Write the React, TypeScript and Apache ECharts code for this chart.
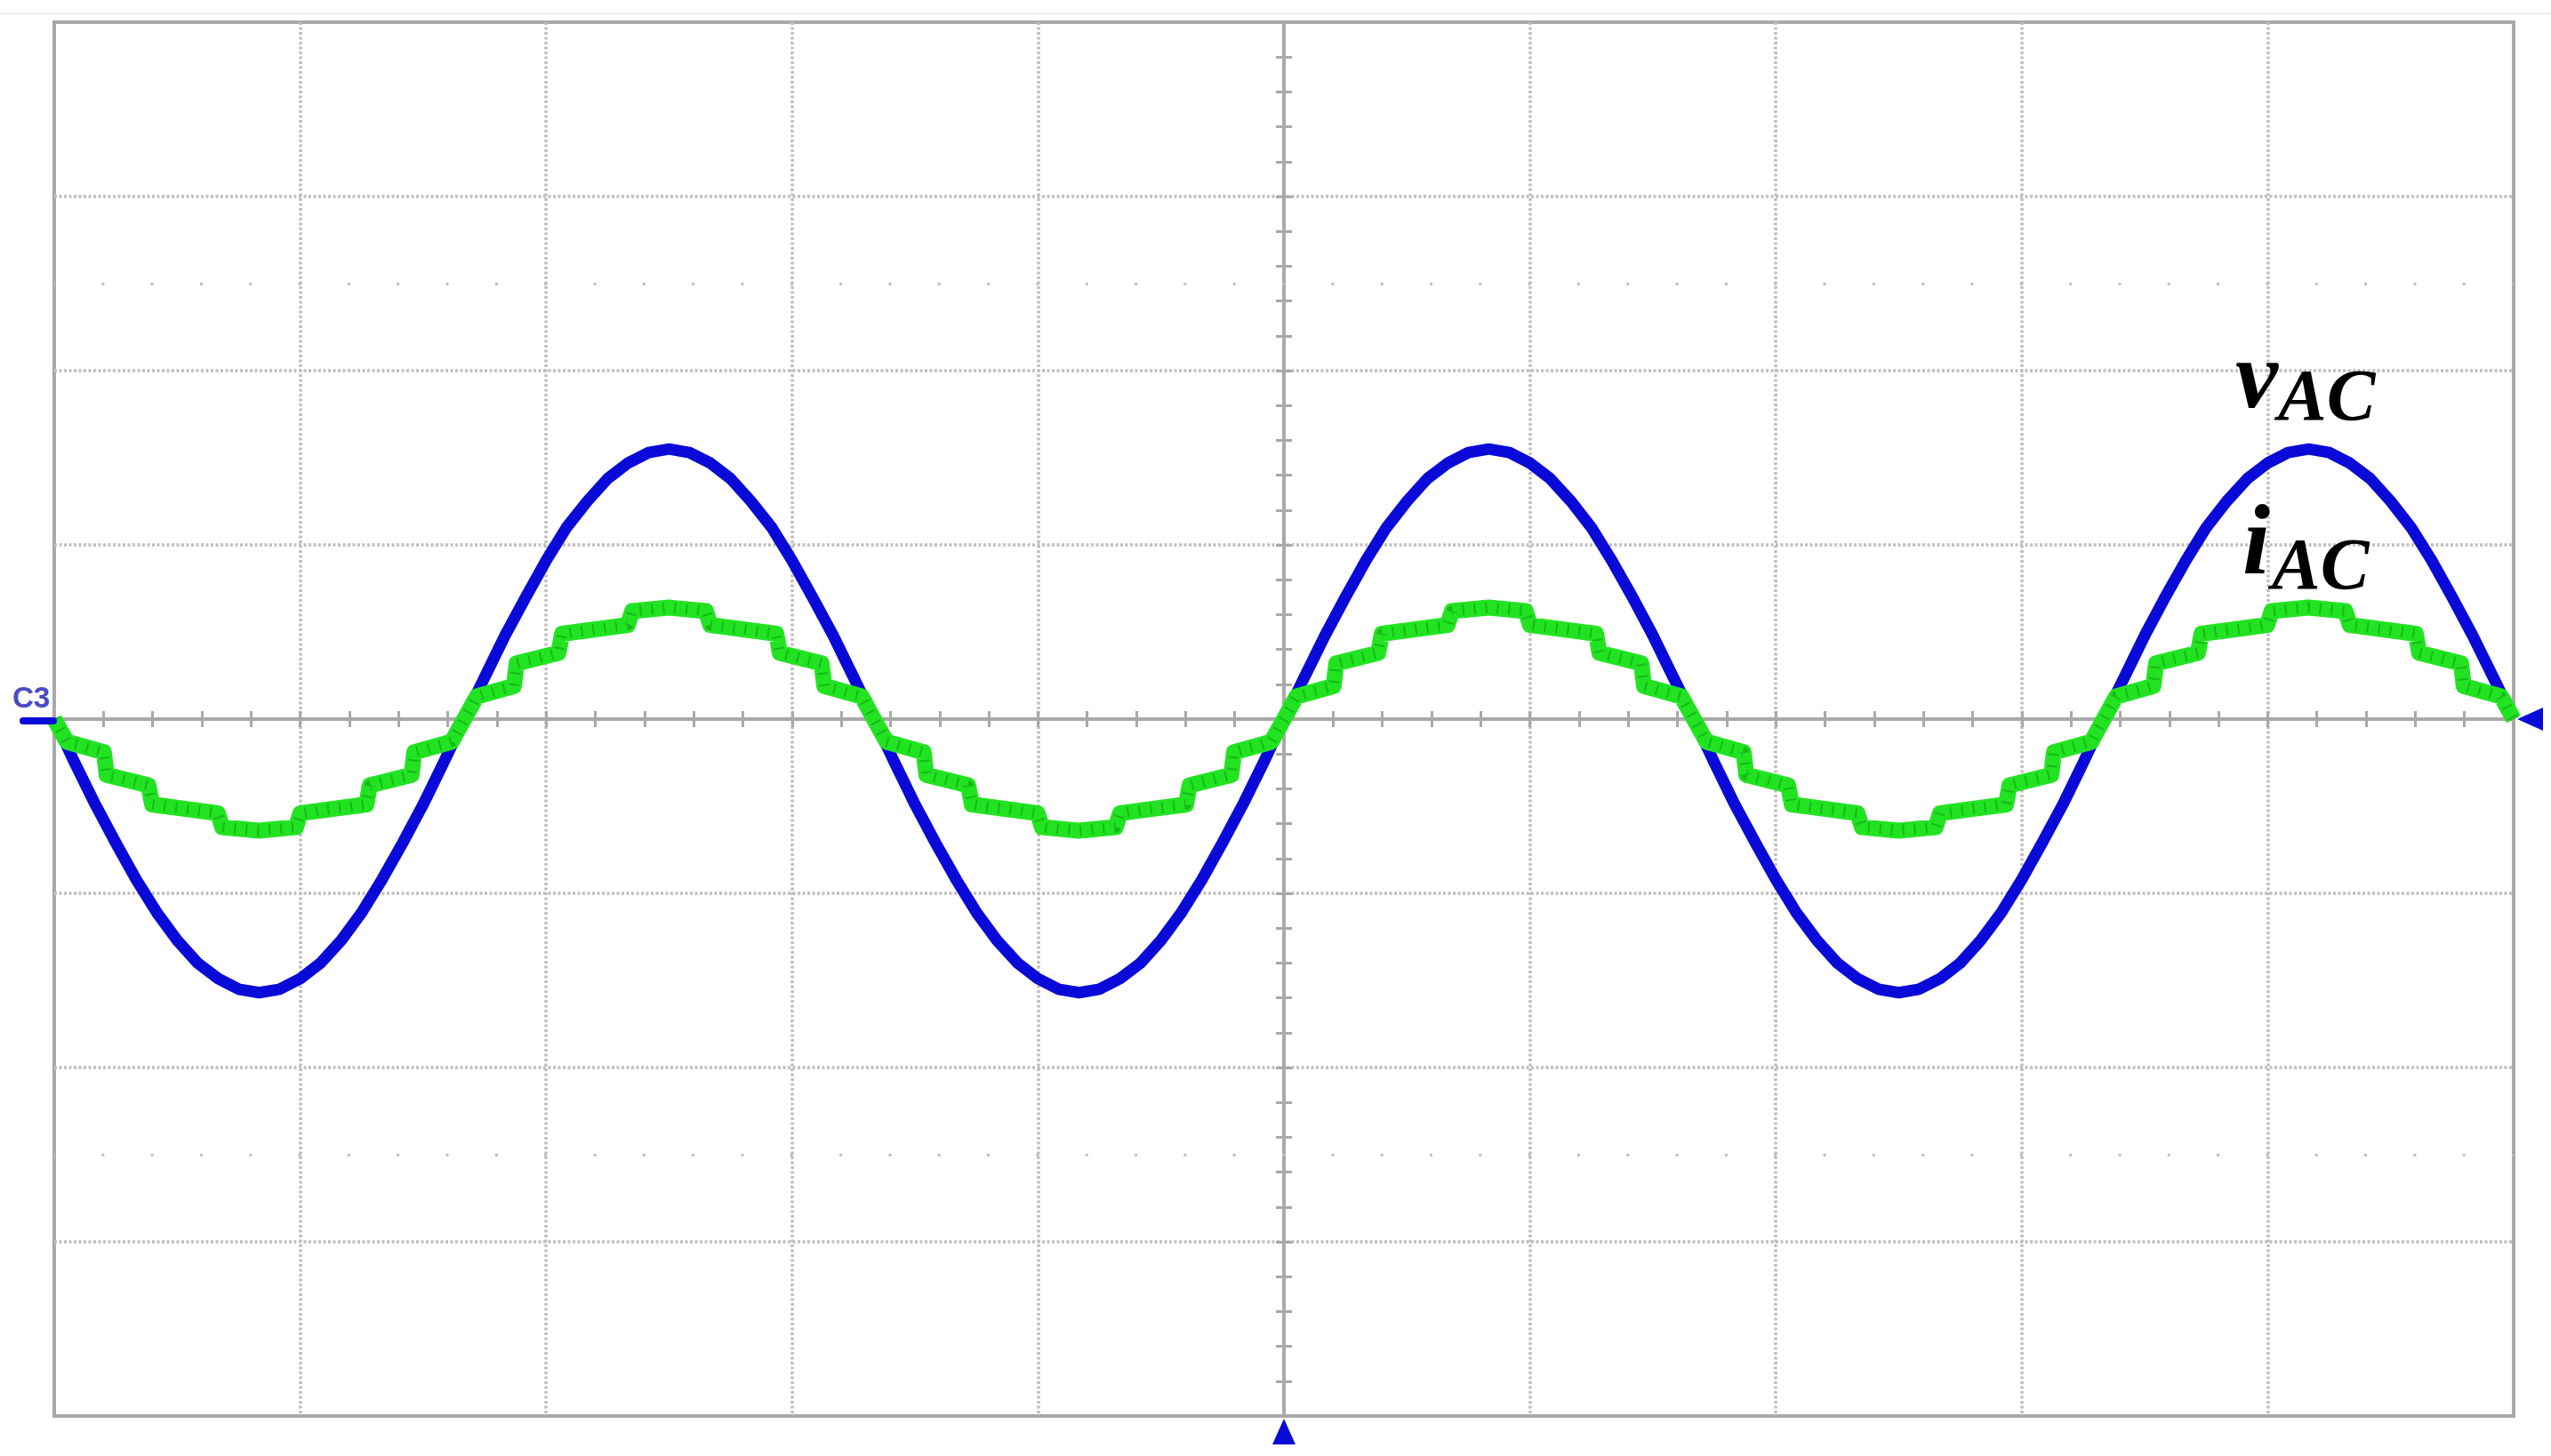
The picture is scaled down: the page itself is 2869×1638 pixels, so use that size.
import React, { useEffect, useRef } from "react";
import * as echarts from "echarts";

const W = 2869;
const H = 1638;

// time in divisions (-5 .. 5), voltage trace in divisions
const blueTime = [
  -5, -4.917, -4.833, -4.75, -4.667, -4.583, -4.5, -4.417, -4.333, -4.25,
  -4.167, -4.083, -4, -3.917, -3.833, -3.75, -3.667, -3.583, -3.5, -3.417,
  -3.333, -3.25, -3.167, -3.083, -3, -2.917, -2.833, -2.75, -2.667, -2.583,
  -2.5, -2.417, -2.333, -2.25, -2.167, -2.083, -2, -1.917, -1.833, -1.75,
  -1.667, -1.583, -1.5, -1.417, -1.333, -1.25, -1.167, -1.083, -1, -0.917,
  -0.833, -0.75, -0.667, -0.583, -0.5, -0.417, -0.333, -0.25, -0.167, -0.083,
  0, 0.083, 0.167, 0.25, 0.333, 0.417, 0.5, 0.583, 0.667, 0.75,
  0.833, 0.917, 1, 1.083, 1.167, 1.25, 1.333, 1.417, 1.5, 1.583,
  1.667, 1.75, 1.833, 1.917, 2, 2.083, 2.167, 2.25, 2.333, 2.417,
  2.5, 2.583, 2.667, 2.75, 2.833, 2.917, 3, 3.083, 3.167, 3.25,
  3.333, 3.417, 3.5, 3.583, 3.667, 3.75, 3.833, 3.917, 4, 4.083,
  4.167, 4.25, 4.333, 4.417, 4.5, 4.583, 4.667, 4.75, 4.833, 4.917,
  5,
];
const blueVolt = [
  0, -0.25, -0.49, -0.71, -0.92, -1.11, -1.27, -1.4, -1.49, -1.55,
  -1.57, -1.55, -1.49, -1.4, -1.27, -1.11, -0.92, -0.71, -0.49, -0.25,
  0, 0.24, 0.48, 0.7, 0.91, 1.1, 1.25, 1.38, 1.47, 1.53,
  1.55, 1.53, 1.47, 1.38, 1.25, 1.1, 0.91, 0.7, 0.48, 0.24,
  0, -0.25, -0.49, -0.71, -0.92, -1.11, -1.27, -1.4, -1.49, -1.55,
  -1.57, -1.55, -1.49, -1.4, -1.27, -1.11, -0.92, -0.71, -0.49, -0.25,
  0, 0.24, 0.48, 0.7, 0.91, 1.1, 1.25, 1.38, 1.47, 1.53,
  1.55, 1.53, 1.47, 1.38, 1.25, 1.1, 0.91, 0.7, 0.48, 0.24,
  0, -0.25, -0.49, -0.71, -0.92, -1.11, -1.27, -1.4, -1.49, -1.55,
  -1.57, -1.55, -1.49, -1.4, -1.27, -1.11, -0.92, -0.71, -0.49, -0.25,
  0, 0.24, 0.48, 0.7, 0.91, 1.1, 1.25, 1.38, 1.47, 1.53,
  1.55, 1.53, 1.47, 1.38, 1.25, 1.1, 0.91, 0.7, 0.48, 0.24,
  0,
];

// current trace (stepped) vertices
const greenTime = [
  -5.0, -4.949, -4.798, -4.787, -4.617, -4.602, -4.335, -4.317, -4.168, -4.017, -3.999, -3.731, -3.717, -3.547, -3.536, -3.384,
  -3.333, -3.282, -3.131, -3.12, -2.95, -2.935, -2.668, -2.65, -2.501, -2.35, -2.332, -2.064, -2.05, -1.88, -1.869, -1.717,
  -1.667, -1.616, -1.465, -1.454, -1.284, -1.269, -1.002, -0.984, -0.835, -0.684, -0.666, -0.398, -0.384, -0.214, -0.203, -0.051,
  0.0, 0.051, 0.202, 0.213, 0.383, 0.398, 0.665, 0.683, 0.832, 0.983, 1.001, 1.269, 1.283, 1.453, 1.464, 1.616,
  1.667, 1.718, 1.869, 1.88, 2.05, 2.065, 2.332, 2.35, 2.499, 2.65, 2.668, 2.936, 2.95, 3.12, 3.131, 3.283,
  3.333, 3.384, 3.535, 3.546, 3.716, 3.731, 3.998, 4.016, 4.165, 4.316, 4.334, 4.602, 4.616, 4.786, 4.797, 4.949,
  5.0,
];
const greenAmp = [
  0, -0.13, -0.19, -0.32, -0.38, -0.49, -0.54, -0.62, -0.64, -0.62, -0.54, -0.49, -0.38, -0.32, -0.19, -0.13,
  0, 0.13, 0.19, 0.32, 0.38, 0.49, 0.54, 0.62, 0.64, 0.62, 0.54, 0.49, 0.38, 0.32, 0.19, 0.13,
  0, -0.13, -0.19, -0.32, -0.38, -0.49, -0.54, -0.62, -0.64, -0.62, -0.54, -0.49, -0.38, -0.32, -0.19, -0.13,
  0, 0.13, 0.19, 0.32, 0.38, 0.49, 0.54, 0.62, 0.64, 0.62, 0.54, 0.49, 0.38, 0.32, 0.19, 0.13,
  0, -0.13, -0.19, -0.32, -0.38, -0.49, -0.54, -0.62, -0.64, -0.62, -0.54, -0.49, -0.38, -0.32, -0.19, -0.13,
  0, 0.13, 0.19, 0.32, 0.38, 0.49, 0.54, 0.62, 0.64, 0.62, 0.54, 0.49, 0.38, 0.32, 0.19, 0.13,
  0,
];

const dotRows = [2.5, -2.5];
const traceNames = ["v", "i"];
const traceSub = "AC";
const channelLabel = "C3";

const GRID_GRAY = "#a9a9a9";
const DOT_GRAY = "#bfbfbf";
const BLUE = "#0a0ad8";
const GREEN = "#22e322";

function xAxisDef(inside: boolean) {
  return {
    type: "value",
    min: -5,
    max: 5,
    interval: 1,
    position: "bottom",
    axisLine: { show: true, onZero: true, lineStyle: { color: GRID_GRAY, width: 4 } },
    axisTick: { show: true, inside, length: 9, lineStyle: { color: GRID_GRAY, width: 3 } },
    minorTick: { show: true, splitNumber: 5, length: 9, lineStyle: { color: GRID_GRAY, width: 3 } },
    axisLabel: { show: false },
    splitLine: {
      show: inside,
      showMinLine: false,
      showMaxLine: false,
      lineStyle: { color: DOT_GRAY, width: 3.5, type: [3, 2.5] },
    },
  };
}

function yAxisDef(inside: boolean) {
  return {
    type: "value",
    min: -4,
    max: 4,
    interval: 1,
    position: "left",
    axisLine: { show: true, onZero: true, lineStyle: { color: GRID_GRAY, width: 4 } },
    axisTick: { show: true, inside, length: 9, lineStyle: { color: GRID_GRAY, width: 3 } },
    minorTick: { show: true, splitNumber: 5, length: 9, lineStyle: { color: GRID_GRAY, width: 3 } },
    axisLabel: { show: false },
    splitLine: {
      show: inside,
      showMinLine: false,
      showMaxLine: false,
      lineStyle: { color: DOT_GRAY, width: 3.5, type: [3, 2.5] },
    },
  };
}

const serif = "Liberation Serif";

function labelText(text: string, x: number, y: number, size: number) {
  return {
    type: "text",
    x,
    y,
    style: {
      text,
      fill: "#000",
      fontFamily: serif,
      fontStyle: "italic",
      fontWeight: "bold",
      fontSize: size,
      verticalAlign: "middle",
      align: "left",
    },
    z: 10,
  };
}

export default function App() {
  const ref = useRef<HTMLDivElement>(null);

  useEffect(() => {
    document.body.style.margin = "0";
    if (!ref.current) return;
    const chart = echarts.init(ref.current, undefined, { renderer: "svg" });

    const greenData = greenTime.map((t, i) => [t, greenAmp[i]]);

    const option = {
      animation: false,
      backgroundColor: "#ffffff",
      grid: {
        left: 61,
        top: 25,
        width: 2766,
        height: 1568,
        show: true,
        borderColor: GRID_GRAY,
        borderWidth: 4,
        backgroundColor: "#ffffff",
      },
      xAxis: [xAxisDef(true), xAxisDef(false)],
      yAxis: [yAxisDef(true), yAxisDef(false)],
      series: [
        {
          name: "vAC",
          type: "line",
          xAxisIndex: 0,
          yAxisIndex: 0,
          data: blueTime.map((t, i) => [t, blueVolt[i]]),
          symbol: "none",
          lineStyle: { color: BLUE, width: 13, join: "round" },
          z: 3,
          markLine: {
            silent: true,
            symbol: "none",
            label: { show: false },
            lineStyle: { color: DOT_GRAY, width: 3, type: [3, 52.32], dashOffset: 1.5 },
            emphasis: { disabled: true },
            data: dotRows.map((v) => ({ yAxis: v })),
          },
        },
        {
          name: "iAC",
          type: "line",
          xAxisIndex: 0,
          yAxisIndex: 0,
          data: greenData,
          symbol: "none",
          lineStyle: { color: GREEN, width: 18, join: "round" },
          z: 4,
        },
        {
          name: "iAC ripple",
          type: "line",
          xAxisIndex: 0,
          yAxisIndex: 0,
          data: greenData,
          symbol: "none",
          silent: true,
          lineStyle: { color: "rgba(0,90,0,0.3)", width: 12, type: [2, 11], join: "round" },
          z: 5,
        },
      ],
      graphic: [
        {
          type: "line",
          shape: { x1: 0, y1: 15, x2: W, y2: 15 },
          style: { stroke: "#ededed", lineWidth: 2 },
          z: 1,
        },
        {
          type: "line",
          shape: { x1: 26, y1: 811, x2: 60, y2: 811 },
          style: { stroke: BLUE, lineWidth: 8, lineCap: "round" },
          z: 10,
        },
        {
          type: "text",
          x: 14,
          y: 784,
          style: {
            text: channelLabel,
            fill: "#4a4ac4",
            fontFamily: "Liberation Sans",
            fontWeight: "bold",
            fontSize: 33,
            verticalAlign: "middle",
            align: "left",
          },
          z: 10,
        },
        {
          type: "polygon",
          shape: { points: [[2831, 809], [2860, 796], [2860, 822]] },
          style: { fill: BLUE },
          z: 10,
        },
        {
          type: "polygon",
          shape: { points: [[1444, 1596], [1431, 1625], [1457, 1625]] },
          style: { fill: BLUE },
          z: 10,
        },
        labelText(traceNames[0], 2514, 421, 108),
        labelText(traceSub, 2562, 444, 82),
        labelText(traceNames[1], 2522, 607, 112),
        labelText(traceSub, 2555, 634, 82),
      ],
    };

    chart.setOption(option as any);
    return () => chart.dispose();
  }, []);

  return <div ref={ref} style={{ width: W, height: H }} />;
}
